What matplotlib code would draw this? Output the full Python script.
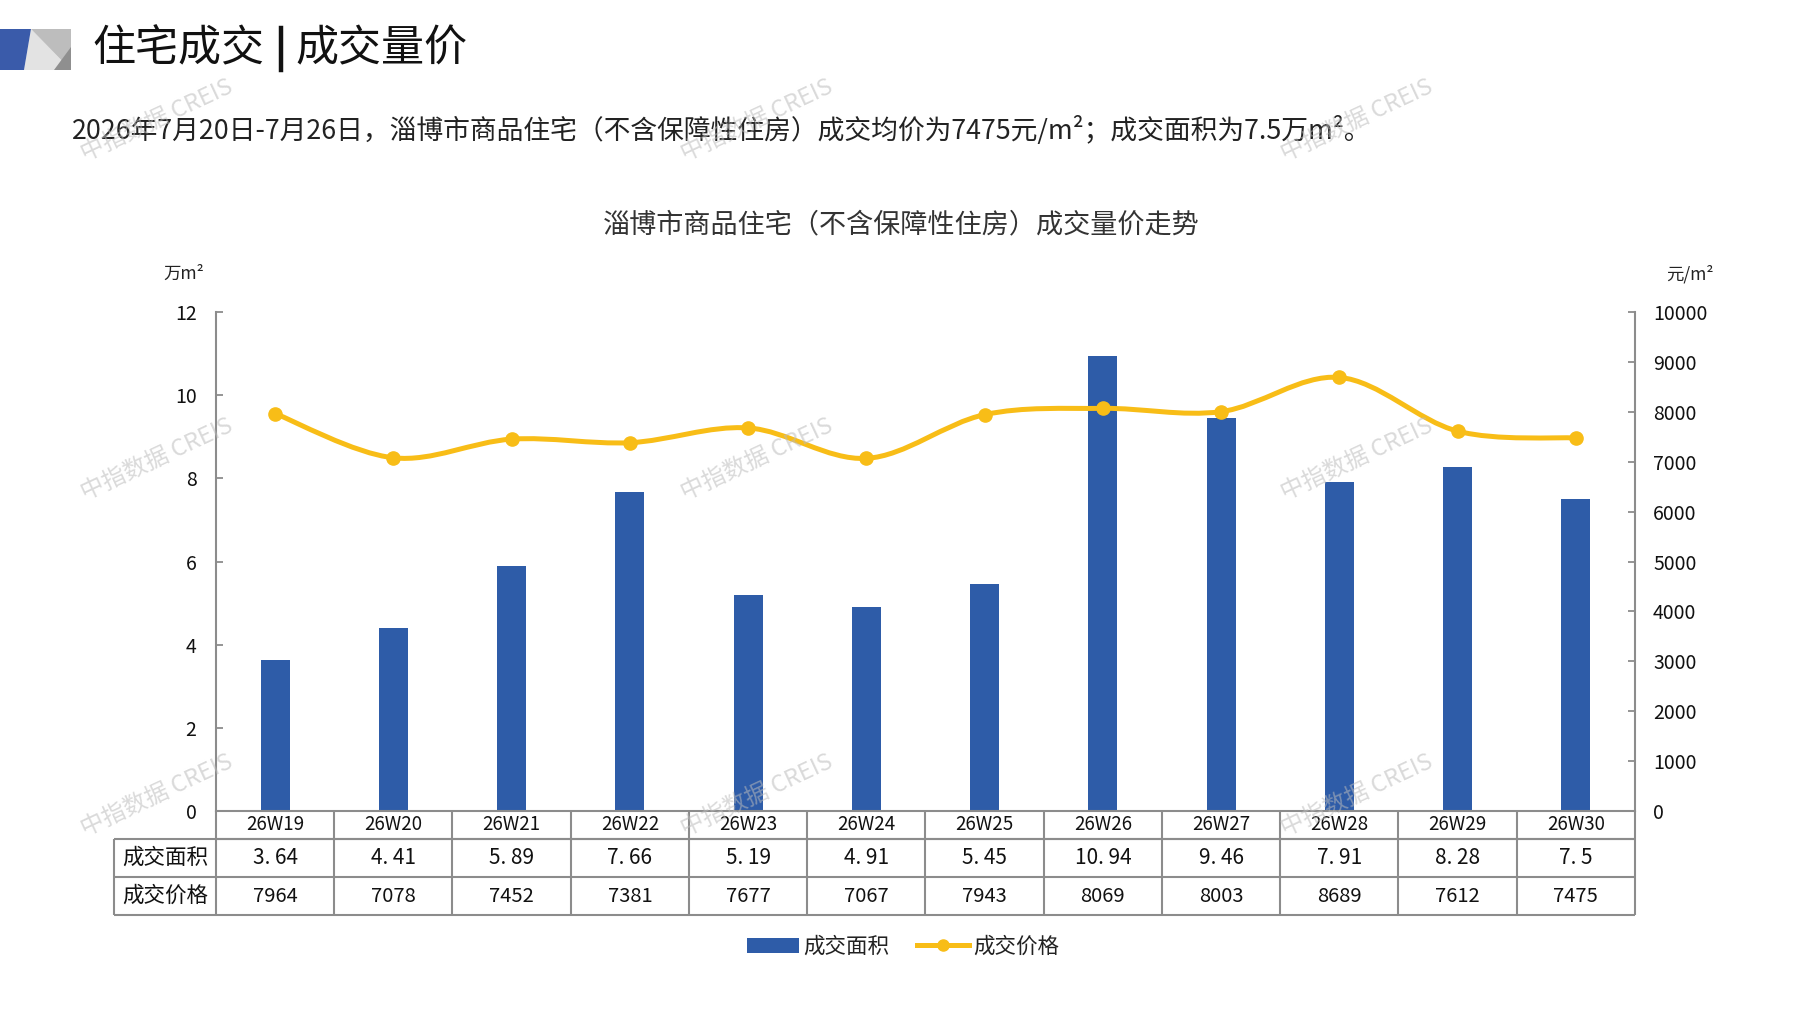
import numpy as np
import matplotlib
matplotlib.use("Agg")
import matplotlib.pyplot as plt
from matplotlib.path import Path
from matplotlib.patches import PathPatch, Polygon, Patch
from matplotlib.lines import Line2D

plt.rcParams['font.family'] = ['Noto Sans CJK SC', 'DejaVu Sans']

# data
weeks = ["26W19", "26W20", "26W21", "26W22", "26W23", "26W24",
         "26W25", "26W26", "26W27", "26W28", "26W29", "26W30"]
area = [3.64, 4.41, 5.89, 7.66, 5.19, 4.91, 5.45, 10.94, 9.46, 7.91, 8.28, 7.5]
area_txt = ["3. 64", "4. 41", "5. 89", "7. 66", "5. 19", "4. 91",
            "5. 45", "10. 94", "9. 46", "7. 91", "8. 28", "7. 5"]
price = [7964, 7078, 7452, 7381, 7677, 7067, 7943, 8069, 8003, 8689, 7612, 7475]
row_names = ["成交面积", "成交价格"]
left_ticks = [0, 2, 4, 6, 8, 10, 12]
right_ticks = [0, 1000, 2000, 3000, 4000, 5000, 6000, 7000, 8000, 9000, 10000]

BLUE = "#2E5CA8"
YELLOW = "#F8BD17"
GRID = "#8C8C8C"

W, H = 1797, 1010
fig = plt.figure(figsize=(W / 100, H / 100), dpi=100)


def fx(x):
    return x / W


def fy(y):
    return 1 - y / H


# header logo
def poly(pts, color):
    fig.add_artist(Polygon([(fx(a), fy(b)) for a, b in pts], closed=True,
                           transform=fig.transFigure, color=color, lw=0))


poly([(31, 29), (24, 70), (71, 70)], "#E3E3E3")
poly([(31, 29), (71, 29), (71, 70)], "#BDBDBD")
poly([(54, 70), (71, 47), (71, 70)], "#8F8F8F")
poly([(0, 29), (31, 29), (24, 70), (0, 70)], "#3A5BAA")

fig.text(fx(92), fy(49), "住宅成交", fontsize=31, va="center", ha="left",
         color="#111111")
fig.add_artist(Line2D([fx(281), fx(281)], [fy(28), fy(70)], color="#111111",
                      lw=3.2, transform=fig.transFigure))
fig.text(fx(295), fy(49), "成交量价", fontsize=31, va="center", ha="left",
         color="#111111")
fig.text(fx(72), fy(130),
         "2026年7月20日-7月26日，淄博市商品住宅（不含保障性住房）成交均价为7475元/m²；成交面积为7.5万m²。",
         fontsize=19.3, va="center", ha="left", color="#222222")
fig.text(fx(901), fy(225), "淄博市商品住宅（不含保障性住房）成交量价走势",
         fontsize=19.5, va="center", ha="center", color="#333333")
fig.text(fx(184), fy(274), "万m²", fontsize=12.5, va="center", ha="center", color="#222222")
fig.text(fx(1690), fy(274), "元/m²", fontsize=12.5, va="center", ha="center", color="#222222")

# axes
left, right, top, bottom = 216, 1635, 312, 811
ax = fig.add_axes([fx(left), fy(bottom), (right - left) / W, (bottom - top) / H])
ax2 = ax.twinx()

x = np.arange(len(weeks))
ax.bar(x, area, width=0.245, color=BLUE, zorder=2)
ax.set_xlim(-0.5, len(weeks) - 0.5)
ax.set_ylim(0, 12)
ax.set_yticks(left_ticks)
ax.set_xticks([])
ax2.set_ylim(0, 10000)
ax2.set_yticks(right_ticks)

for a in (ax, ax2):
    for s in a.spines.values():
        s.set_visible(False)
ax.spines["left"].set_visible(True)
ax.spines["bottom"].set_visible(True)
ax2.spines["right"].set_visible(True)
for s in (ax.spines["left"], ax.spines["bottom"], ax2.spines["right"]):
    s.set_color(GRID)
    s.set_linewidth(1.5)
ax.tick_params(axis="y", direction="in", length=5, width=1.3, color=GRID,
               pad=14, labelsize=14, labelcolor="#111111")
ax2.tick_params(axis="y", direction="in", length=5, width=1.3, color=GRID,
                pad=13, labelsize=14, labelcolor="#111111")

# smoothed price line (Catmull-Rom as cubic Bezier)
pts = np.column_stack([x, price]).astype(float)
ext = np.vstack([pts[0], pts, pts[-1]])
verts = [tuple(pts[0])]
codes = [Path.MOVETO]
for i in range(len(pts) - 1):
    p0, p1, p2, p3 = ext[i], ext[i + 1], ext[i + 2], ext[i + 3]
    c1 = p1 + (p2 - p0) / 6
    c2 = p2 - (p3 - p1) / 6
    verts += [tuple(c1), tuple(c2), tuple(p2)]
    codes += [Path.CURVE4] * 3
ax2.add_patch(PathPatch(Path(verts, codes), fill=False, edgecolor=YELLOW,
                        lw=3.6, capstyle="round", joinstyle="round", zorder=3))
ax2.plot(x, price, "o", color=YELLOW, ms=9.5, zorder=4)

# data table under the chart
tr = ax.get_xaxis_transform()
ph = bottom - top
rows_y = [0, -(839 - bottom) / ph, -(877 - bottom) / ph, -(915 - bottom) / ph]
lab_left = -0.5 - (left - 114) / ((right - left) / len(weeks))
xr = len(weeks) - 0.5
lk = dict(color=GRID, lw=1.5, transform=tr, clip_on=False, solid_capstyle="butt")
ax.plot([-0.5, xr], [rows_y[1]] * 2, **lk)
ax.plot([lab_left, xr], [rows_y[1]] * 2, **lk)
ax.plot([lab_left, xr], [rows_y[2]] * 2, **lk)
ax.plot([lab_left, xr], [rows_y[3]] * 2, **lk)
ax.plot([lab_left, lab_left], [rows_y[1], rows_y[3]], **lk)
for k in range(len(weeks) + 1):
    ax.plot([k - 0.5, k - 0.5], [rows_y[0], rows_y[3]], **lk)

mid = [(rows_y[i] + rows_y[i + 1]) / 2 for i in range(3)]
for i, w in enumerate(weeks):
    ax.text(i, mid[0], w, transform=tr, ha="center", va="center",
            fontsize=13.5, color="#111111")
    ax.text(i, mid[1], area_txt[i], transform=tr, ha="center", va="center",
            fontsize=15, color="#111111")
    ax.text(i, mid[2], str(price[i]), transform=tr, ha="center", va="center",
            fontsize=14.5, color="#111111")
for j, name in enumerate(row_names):
    ax.text((lab_left - 0.5) / 2, mid[j + 1], name, transform=tr, ha="center",
            va="center", fontsize=15.5, color="#111111")

# legend
handles = [Patch(facecolor=BLUE, edgecolor="none", label="成交面积"),
           Line2D([0], [0], color=YELLOW, lw=3.6, marker="o", ms=8, label="成交价格")]
fig.legend(handles=handles, loc="center", bbox_to_anchor=(fx(903), fy(947)),
           ncol=2, frameon=False, fontsize=15.5, handlelength=2.4,
           handletextpad=0.2, columnspacing=1.3, labelcolor="#222222")

# watermarks
for wx in (157, 757, 1357):
    for wy in (120, 459, 795):
        fig.text(fx(wx), fy(wy), "中指数据 CREIS", fontsize=17, rotation=25,
                 ha="center", va="center", color="#BBBBBB", alpha=0.55, zorder=10)

fig.savefig("out.png", dpi=100)
